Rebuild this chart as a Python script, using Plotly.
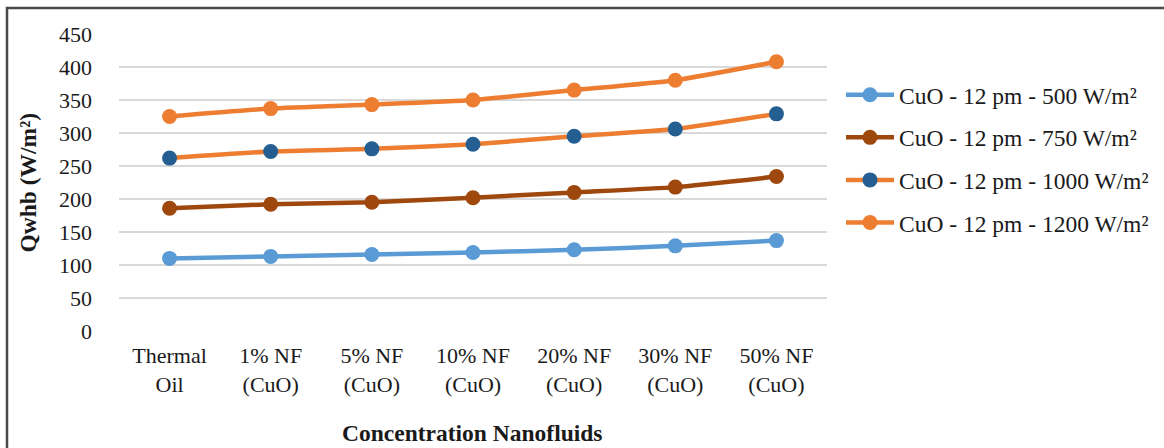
import plotly.graph_objects as go

# Categories along the x axis
categories = ["Thermal<br>Oil", "1% NF<br>(CuO)", "5% NF<br>(CuO)", "10% NF<br>(CuO)",
              "20% NF<br>(CuO)", "30% NF<br>(CuO)", "50% NF<br>(CuO)"]

# Qwhb values (W/m²) for each irradiance level
q_500 = [110, 113, 116, 119, 123, 129, 137]
q_750 = [186, 192, 195, 202, 210, 218, 234]
q_1000 = [262, 272, 276, 283, 295, 306, 329]
q_1200 = [325, 337, 343, 350, 365, 380, 408]

y_ticks = [0, 50, 100, 150, 200, 250, 300, 350, 400, 450]

series = [
    ("CuO - 12 pm - 500 W/m²", q_500, "#5B9BD5", "#5B9BD5"),
    ("CuO - 12 pm - 750 W/m²", q_750, "#9E480E", "#9E480E"),
    ("CuO - 12 pm - 1000 W/m²", q_1000, "#ED7D31", "#255E91"),
    ("CuO - 12 pm - 1200 W/m²", q_1200, "#ED7D31", "#ED7D31"),
]

W, H = 1164, 448
L, R, T, B = 119, 337, 34, 117
pw, ph = W - L - R, H - T - B

serif = "Liberation Serif"
ink = "#1a1a1a"

fig = go.Figure()
for i, (name, vals, lc, mc) in enumerate(series):
    fig.add_trace(go.Scatter(
        x=categories, y=vals, name=name, mode="lines+markers",
        legendgroup=f"g{i}",
        line=dict(color=lc, width=4.5, shape="spline", smoothing=0.5),
        marker=dict(color=mc, size=15),
    ))

# pixel -> paper helpers
def px_x(p):
    return (p - L) / pw

def px_y(p):
    return (H - B - p) / ph

# frame around the whole chart
fig.add_shape(type="rect", xref="paper", yref="paper",
              x0=px_x(7), x1=px_x(W + 20), y0=px_y(H + 20), y1=px_y(8),
              line=dict(color="#4a4a4a", width=2.5), fillcolor="rgba(0,0,0,0)", layer="below")

fig.add_annotation(text="<b>Qwhb (W/m²)</b>", xref="paper", yref="paper",
                   x=px_x(27), y=0.5, xanchor="center", yanchor="middle",
                   textangle=-90, showarrow=False,
                   font=dict(family=serif, size=23.5, color=ink))
fig.add_annotation(text="<b>Concentration Nanofluids</b>", xref="paper", yref="paper",
                   x=px_x(472), y=px_y(433), xanchor="center", yanchor="middle",
                   showarrow=False,
                   font=dict(family=serif, size=23.5, color=ink))

fig.update_layout(
    width=W, height=H,
    margin=dict(l=L, r=R, t=T, b=B),
    paper_bgcolor="white", plot_bgcolor="white",
    font=dict(family=serif, size=22, color=ink),
    showlegend=True,
    legend=dict(xref="container", yref="container",
                x=841 / W, y=1 - 73 / H, xanchor="left", yanchor="top",
                font=dict(family=serif, size=23.5, color=ink),
                tracegroupgap=9, itemwidth=48, bgcolor="rgba(0,0,0,0)"),
    xaxis=dict(range=[-0.5, 6.5], showgrid=False, showline=False, ticks="", zeroline=False,
               ticklabelstandoff=9,
               tickfont=dict(family=serif, size=22, color=ink)),
    yaxis=dict(range=[0, 450], tickvals=y_ticks, showgrid=True, gridcolor="#d9d9d9",
               gridwidth=1.5, zeroline=False, showline=False, ticks="",
               ticklabelstandoff=26,
               tickfont=dict(family=serif, size=22, color=ink)),
)

fig.write_html("out.html")
